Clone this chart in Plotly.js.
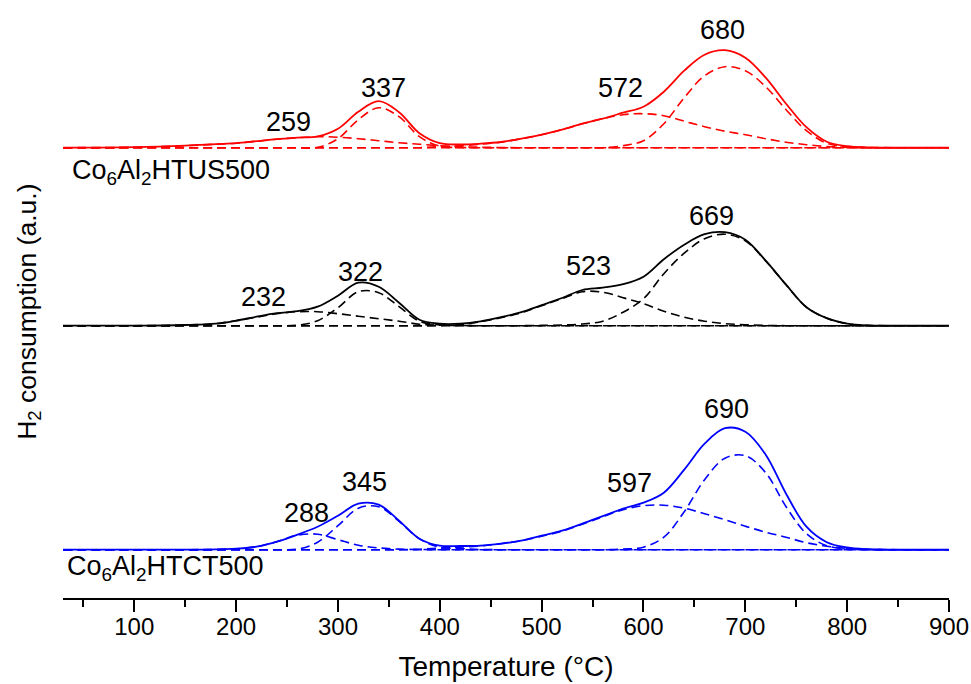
<!DOCTYPE html>
<html>
<head>
<meta charset="utf-8">
<script src="https://cdn.plot.ly/plotly-3.0.1.min.js"></script>
<style>html,body{margin:0;padding:0;background:#fff;}#chart{width:971px;height:684px;}</style>
</head>
<body>
<div id="chart"></div>
<script>
// Temperature grid (°C)
const temps = [30,100,150,180,200,220,240,260,280,300,320,340,360,380,400,420,440,460,480,500,520,540,560,580,600,620,640,660,680,700,720,740,760,780,800,820,850,900];

// Co6Al2HTUS500 (red)
const usTotal = [0,0.5,2,3.5,4.5,6.5,8.5,10,11.3,19,36,46.5,35.5,14.5,4.5,3.2,4,5.7,9,13,18,24,29,35,41,56,77,93,97.5,90,70,44,20.5,6,1.5,0.3,0,0];
const usP259  = [0,0.5,2,3.5,4.5,6.5,8.5,10,11,10.5,9,7,5,3.5,2,1,0.5,0.2,0,0,0,0,0,0,0,0,0,0,0,0,0,0,0,0,0,0,0,0];
const usP337  = [0,0,0,0,0,0,0,0,0.3,9,28,40,31,11,1.5,0.2,0,0,0,0,0,0,0,0,0,0,0,0,0,0,0,0,0,0,0,0,0,0];
const usP572  = [0,0,0,0,0,0,0,0,0,0,0,0,0,0,1,2,3.5,5.5,9,13,18,24,29,33,34,32,26.5,21,16.5,13,9,5.5,3,1.2,0.4,0,0,0];
const usP680  = [0,0,0,0,0,0,0,0,0,0,0,0,0,0,0,0,0,0,0,0,0,0,0,2,7,24,50,72,81,77,61,38,17,4.5,1,0.2,0,0];

// Co6Al2HTMW500 (black)
const mwTotal = [0,0,0.7,2,5,9,12.5,14.5,19,30,43,39,23,6,2,2,4.3,8.5,13.5,20.5,27.7,35.7,38,41.5,49,66.5,81,91.5,93.5,86,65,41,18.5,7.5,2,0.3,0,0];
const mwP232  = [0,0,0.7,2,5,8.5,12,14,14,12,9.5,7,4.5,1.5,0.6,0.2,0,0,0,0,0,0,0,0,0,0,0,0,0,0,0,0,0,0,0,0,0,0];
const mwP322  = [0,0,0,0,0,0,0,0.5,5,18,34,33,19,4.5,0.8,0.2,0,0,0,0,0,0,0,0,0,0,0,0,0,0,0,0,0,0,0,0,0,0];
const mwP523  = [0,0,0,0,0,0,0,0,0,0,0,0,0,0,0.3,1.2,4,8,13,20,27,34,33.5,28,22,14.5,8.5,4.5,2,1,0.3,0,0,0,0,0,0,0];
const mwP669  = [0,0,0,0,0,0,0,0,0,0,0,0,0,0,0,0,0,0,0,0.3,0.7,1.7,4.5,13.5,27,52,72.5,87,91.5,85,64.7,41,18.5,7.5,2,0.3,0,0];

// Co6Al2HTCT500 (blue)
const ctTotal = [0,0,0,0.3,1,3,8,15,23,34,46,45,29,11,4,3.7,4,6,9,14,19,26,33.5,41,47,57,80,106,121.5,118,95,56,23,7.5,2.2,0.5,0,0];
const ctP288  = [0,0,0,0.3,1,3,8,14.5,15.5,10,4.5,1.8,0.6,0.2,0,0,0,0,0,0,0,0,0,0,0,0,0,0,0,0,0,0,0,0,0,0,0,0];
const ctP345  = [0,0,0,0,0,0,0,0.5,7.5,24,41.5,43,28.4,10.8,2.5,1.2,0.2,0,0,0,0,0,0,0,0,0,0,0,0,0,0,0,0,0,0,0,0,0];
const ctP597  = [0,0,0,0,0,0,0,0,0,0,0,0,0,0.5,1.5,2.5,3.8,6,9,13.5,18.5,25.5,33,40,44,44.5,41.5,36,30,23.5,17.5,12.5,7,3.5,1.2,0.3,0,0];
const ctP690  = [0,0,0,0,0,0,0,0,0,0,0,0,0,0,0,0,0,0,0,0,0,0,0,0.7,2.5,12.5,38,70,91.5,94,77,43,16,4,1,0.2,0,0];

// Text
const sampleNames = ['Co<sub>6</sub>Al<sub>2</sub>HTUS500','Co<sub>6</sub>Al<sub>2</sub>HTMW500','Co<sub>6</sub>Al<sub>2</sub>HTCT500'];
const usPeakLabels = ['259','337','572','680'];
const mwPeakLabels = ['232','322','523','669'];
const ctPeakLabels = ['288','345','597','690'];
const xTickVals = [100,200,300,400,500,600,700,800,900];

// ---- layout / style (not data) ----
const FONT = 'Liberation Sans, Arial, sans-serif';
const samples = [
  {name: sampleNames[0], color:'#ff0000', offset:450.3, total:usTotal, comps:[usP259,usP337,usP572,usP680], labels:usPeakLabels,
   labelPos:[[251,26],[344.5,59.4],[577,59.4],[677.7,117.7]], namePos:[36.9,-24]},
  {name: sampleNames[1], color:'#000000', offset:272.3, total:mwTotal, comps:[mwP232,mwP322,mwP523,mwP669], labels:mwPeakLabels,
   labelPos:[[226.7,29],[322,54],[545.8,59.7],[667,109.7]], namePos:[26.4,-19.5]},
  {name: sampleNames[2], color:'#0000ff', offset:48.3, total:ctTotal, comps:[ctP288,ctP345,ctP597,ctP690], labels:ctPeakLabels,
   labelPos:[[269,36.4],[326.5,68],[586.7,66.4],[681.6,140.4]], namePos:[32,-18.6]}
];

const traces = [];
const annotations = [];
samples.forEach(s => {
  s.comps.forEach(c => {
    traces.push({x: temps, y: c.map(v => v + s.offset), mode:'lines', type:'scatter',
      line:{color:s.color, width:1.6, dash:'9px,5px', shape:'spline', smoothing:1}, hoverinfo:'skip', showlegend:false});
  });
  traces.push({x: temps, y: s.total.map(v => v + s.offset), mode:'lines', type:'scatter',
    line:{color:s.color, width:1.8, shape:'spline', smoothing:1}, hoverinfo:'skip', showlegend:false});
  s.labels.forEach((t,i) => {
    annotations.push({x:s.labelPos[i][0], y:s.labelPos[i][1] + s.offset, xref:'x', yref:'y', text:t, showarrow:false,
      xanchor:'center', yanchor:'middle', font:{family:FONT, size:27, color:'#000'}});
  });
  annotations.push({x:s.namePos[0], y:s.namePos[1] + s.offset, xref:'x', yref:'y', text:s.name, showarrow:false,
    xanchor:'left', yanchor:'middle', font:{family:FONT, size:27, color:'#000'}});
});
annotations.push({x:-0.038, y:0.4856, xref:'paper', yref:'paper', text:'H<sub>2</sub> consumption (a.u.)', textangle:-90,
  showarrow:false, xanchor:'center', yanchor:'middle', font:{family:FONT, size:26.5, color:'#000'}});

const layout = {
  width:971, height:684,
  margin:{l:63, r:22, t:8, b:86},
  paper_bgcolor:'#fff', plot_bgcolor:'#fff',
  showlegend:false,
  xaxis:{range:[30,900], tickmode:'array', tickvals:xTickVals, ticks:'outside', ticklen:12, tickwidth:2, tickcolor:'#000',
    showline:true, linewidth:2, linecolor:'#000', showgrid:false, zeroline:false,
    ticklabelstandoff:-6,
    minor:{dtick:50, tick0:0, ticks:'outside', ticklen:7, tickwidth:2, tickcolor:'#000', showgrid:false},
    tickfont:{family:FONT, size:24, color:'#000'},
    title:{text:'Temperature (°C)', font:{family:FONT, size:28, color:'#000'}, standoff:18}},
  yaxis:{range:[0,590], visible:false, fixedrange:true},
  annotations: annotations
};
Plotly.newPlot('chart', traces, layout, {staticPlot:true, displayModeBar:false});
</script>
</body>
</html>
